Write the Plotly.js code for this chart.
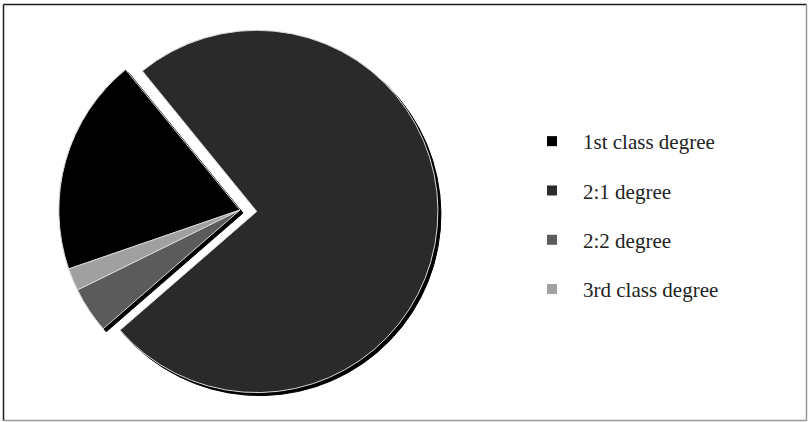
<!DOCTYPE html>
<html>
<head>
<meta charset="utf-8">
<script src="https://cdn.plot.ly/plotly-3.0.1.min.js"></script>
<style>html,body{margin:0;padding:0;background:#fff;}#chart{width:808px;height:422px;}</style>
</head>
<body>
<div id="chart"></div>
<script>
// Data (share of graduates, %)
var categories = ['1st class degree', '2:1 degree', '2:2 degree', '3rd class degree'];
var shares = [19.4, 74.5, 4.1, 2.0];
var pulls = [0, 0.093, 0, 0];
var sliceColors = ['#000000', '#2a2a2a', '#5b5b5b', '#a0a0a0'];

var W = 808, H = 422;
function px(x) { return x / W; }
function py(y) { return 1 - y / H; }

var dom = {x: [px(42), px(438)], y: [py(408), py(12)]};
var shadowDom = {x: [px(45), px(441)], y: [py(411), py(15)]};

var traces = [];
// shadow pie
traces.push({
  type: 'pie', labels: categories, values: shares, pull: pulls,
  sort: false, direction: 'clockwise', rotation: 251,
  domain: shadowDom, textinfo: 'none', hoverinfo: 'skip', showlegend: false,
  marker: {colors: categories.map(function(){return '#000';}), line: {color: '#000', width: 1}}
});
// main pie
traces.push({
  type: 'pie', labels: categories, values: shares, pull: pulls,
  sort: false, direction: 'clockwise', rotation: 251,
  domain: dom, textinfo: 'none', hoverinfo: 'label+percent', showlegend: false,
  marker: {colors: sliceColors, line: {color: '#d8d8d8', width: 1}}
});
// legend entries
categories.forEach(function(c, i) {
  traces.push({
    type: 'scatter', mode: 'markers', x: [null], y: [null], name: c,
    legendgroup: 'g' + i, showlegend: true, hoverinfo: 'skip',
    marker: {symbol: 'square', size: 10, color: sliceColors[i]}
  });
});

var layout = {
  width: W, height: H,
  margin: {l: 0, r: 0, t: 0, b: 0},
  paper_bgcolor: '#ffffff', plot_bgcolor: 'rgba(0,0,0,0)',
  xaxis: {visible: false, domain: [0.9, 1]},
  yaxis: {visible: false, domain: [0.9, 1]},
  showlegend: true,
  legend: {
    x: px(521), y: py(121), xanchor: 'left', yanchor: 'top',
    font: {family: 'Liberation Serif, Times New Roman, serif', size: 21, color: '#222'},
    tracegroupgap: 19, itemwidth: 52, bgcolor: 'rgba(0,0,0,0)',
    itemclick: false, itemdoubleclick: false
  },
  shapes: [
    {type: 'line', xref: 'paper', yref: 'paper', x0: px(3.5), x1: px(806.5), y0: py(4.5), y1: py(4.5), line: {color: '#1e1e1e', width: 1.5}},
    {type: 'line', xref: 'paper', yref: 'paper', x0: px(3.5), x1: px(3.5), y0: py(4.5), y1: py(420.5), line: {color: '#1e1e1e', width: 1.5}},
    {type: 'line', xref: 'paper', yref: 'paper', x0: px(806.5), x1: px(806.5), y0: py(5), y1: py(420.5), line: {color: '#999', width: 1.5}},
    {type: 'line', xref: 'paper', yref: 'paper', x0: px(4), x1: px(806.5), y0: py(420.5), y1: py(420.5), line: {color: '#999', width: 1.5}}
  ]
};

Plotly.newPlot('chart', traces, layout, {displayModeBar: false, staticPlot: false});
</script>
</body>
</html>
